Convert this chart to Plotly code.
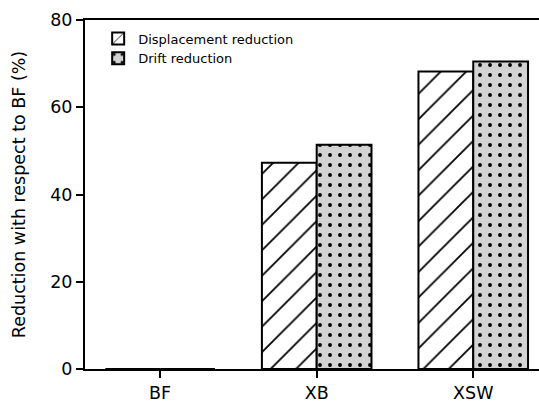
import plotly.graph_objects as go

categories = ["BF", "XB", "XSW"]
displacement = [0.0, 47.3, 68.2]
drift = [0.0, 51.4, 70.5]

fig = go.Figure()
fig.add_trace(go.Bar(
    x=categories, y=displacement, name="Displacement reduction",
    offsetgroup=0,
    marker=dict(color="white", line=dict(color="black", width=2),
                pattern=dict(shape="/", fgcolor="black", fgopacity=1, bgcolor="white", size=18, solidity=0.1)),
))
fig.add_trace(go.Bar(
    x=categories, y=drift, name="Drift reduction",
    offsetgroup=1,
    marker=dict(color="#d3d3d3", line=dict(color="black", width=2),
                pattern=dict(shape=".", fgcolor="black", fgopacity=1, bgcolor="#d3d3d3", size=10, solidity=0.12)),
))

fig.update_layout(
    width=539, height=403,
    margin=dict(l=85, r=0, t=20, b=31),
    plot_bgcolor="white", paper_bgcolor="white",
    barmode="group", bargap=0.3, bargroupgap=0,
    font=dict(family="DejaVu Sans", color="black"),
    legend=dict(x=0.029, y=0.99, xanchor="left", yanchor="top",
                bgcolor="rgba(0,0,0,0)", font=dict(size=13),
                itemwidth=30, tracegroupgap=0),
    showlegend=True,
)
fig.update_xaxes(
    range=[-0.48, 2.42], showline=True, linecolor="black", linewidth=2,
    mirror=True, ticks="outside", ticklen=7, tickwidth=1.5, tickcolor="black",
    tickfont=dict(size=17.5), showgrid=False, zeroline=False,
)
fig.update_yaxes(
    range=[0, 80], tickvals=[0, 20, 40, 60, 80],
    showline=True, linecolor="black", linewidth=2, mirror=False,
    ticks="outside", ticklen=7, tickwidth=1.5, tickcolor="black",
    tickfont=dict(size=17.5), showgrid=False, zeroline=False,
    title=dict(text="Reduction with respect to BF (%)", font=dict(size=17.5), standoff=20),
)

fig.write_html("out.html")
